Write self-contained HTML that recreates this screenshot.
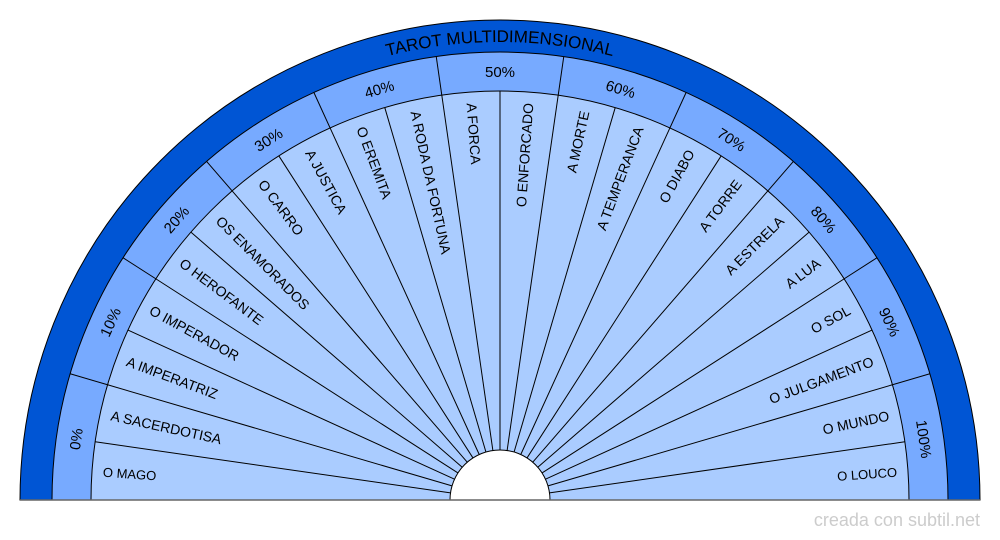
<!DOCTYPE html>
<html><head><meta charset="utf-8"><style>body{margin:0;background:#fff}svg{display:block}</style></head>
<body>
<svg id="s" width="1000" height="540" xmlns="http://www.w3.org/2000/svg" font-family="Liberation Sans, sans-serif">
<path d="M20,500 A480,480 0 0 1 980,500 Z" fill="#0055d4" stroke="#000" stroke-width="1"/>
<path d="M52,500 A448,448 0 0 1 948,500 Z" fill="#77aaff" stroke="#000" stroke-width="1"/>
<path d="M91,500 A409,409 0 0 1 909,500 Z" fill="#aaccff" stroke="#000" stroke-width="1"/>
<defs><path id="tp" d="M42,500 A458,458 0 0 1 958,500"/></defs>
<text font-size="17" fill="#000"><textPath href="#tp" startOffset="50%" text-anchor="middle">TAROT MULTIDIMENSIONAL</textPath></text>
<g id="g"></g>
<circle cx="500" cy="500" r="50" fill="#fff" stroke="#000"/>
<rect x="0" y="500.5" width="1000" height="40" fill="#fff"/>
<line x1="20" y1="500" x2="980" y2="500" stroke="#666" stroke-width="1.5"/>
<text x="980" y="526" font-size="18" fill="#ccc" text-anchor="end">creada con subtil.net</text>
</svg>
<script>
var g=document.getElementById('g'),h='';
function P(r,t){t=t*Math.PI/180;return [500-r*Math.cos(t),500-r*Math.sin(t)];}
var cards=["O MAGO","A SACERDOTISA","A IMPERATRIZ","O IMPERADOR","O HEROFANTE","OS ENAMORADOS","O CARRO","A JUSTICA","O EREMITA","A RODA DA FORTUNA","A FORCA","O ENFORCADO","A MORTE","A TEMPERANCA","O DIABO","A TORRE","A ESTRELA","A LUA","O SOL","O JULGAMENTO","O MUNDO","O LOUCO"];
var n=22,d=180/n;
for(var i=1;i<n;i++){var a=P(50,i*d),b=P(409,i*d);h+='<line x1="'+a[0]+'" y1="'+a[1]+'" x2="'+b[0]+'" y2="'+b[1]+'" stroke="#000" stroke-width="1"/>';}
for(var i=0;i<n;i++){var t=(i+.5)*d,fs=(i==0||i==21)?13:14;
 if(t<90) h+='<text transform="translate(500,500) rotate('+t+')" x="-398" y="5" font-size="'+fs+'">'+cards[i]+'</text>';
 else h+='<text transform="translate(500,500) rotate('+(t-180)+')" x="398" y="5" font-size="'+fs+'" text-anchor="end">'+cards[i]+'</text>';}
var m=11,e=180/m;
for(var i=1;i<m;i++){var a=P(409,i*e),b=P(448,i*e);h+='<line x1="'+a[0]+'" y1="'+a[1]+'" x2="'+b[0]+'" y2="'+b[1]+'" stroke="#000" stroke-width="1"/>';}
for(var i=0;i<m;i++){var t=(i+.5)*e,p=P(428,t);
 h+='<text transform="translate('+p[0]+','+p[1]+') rotate('+(t-90)+')" y="5" font-size="15" text-anchor="middle">'+(i*10)+'%</text>';}
g.innerHTML=h;
</script>
</body></html>
